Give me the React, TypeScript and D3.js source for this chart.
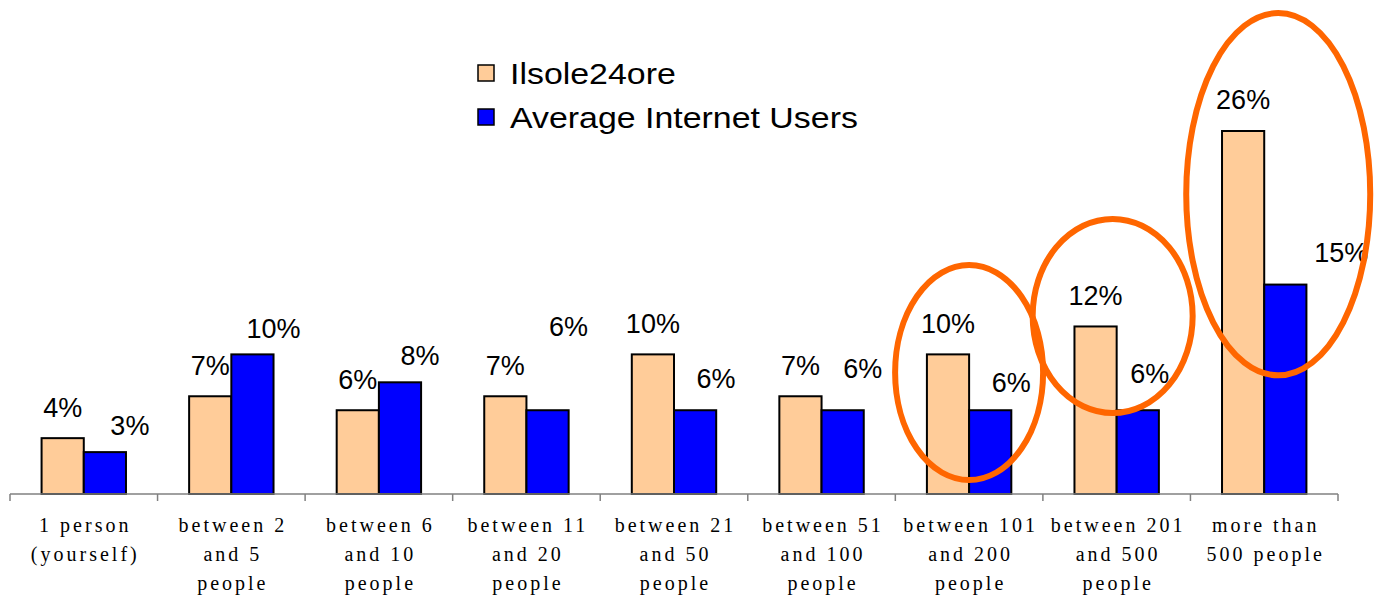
import React from "react";
import * as d3 from "d3";

// ---- data ----
const categories: string[][] = [
  ["1 person", "(yourself)"],
  ["between 2", "and 5", "people"],
  ["between 6", "and 10", "people"],
  ["between 11", "and 20", "people"],
  ["between 21", "and 50", "people"],
  ["between 51", "and 100", "people"],
  ["between 101", "and 200", "people"],
  ["between 201", "and 500", "people"],
  ["more than", "500 people"],
];
const seriesNames = ["Ilsole24ore", "Average Internet Users"];
const ilsole: number[] = [4, 7, 6, 7, 10, 7, 10, 12, 26];
const avgUsers: number[] = [3, 10, 8, 6, 6, 6, 6, 6, 15];
// highlighted categories (orange ellipses), vertical extent in % units
const highlightCats = [6, 7, 8];
const highlightFrom = [1.0, 5.8, 8.5];
const highlightTo = [16.4, 19.7, 34.45];

// ---- layout / style ----
const W = 1385;
const H = 596;
const colors = ["#FFCC99", "#0000FF"];
// manual label nudges (px) for the second series, as in the source chart
const blueDx = [25, 21, 20, 21, 21, 20, 21, 12, 56];
const blueDy = [-27, -26, -27, -84, -32, -42, -28, -37, -32];
const ellipseDx = [0, -4, 14];
const ellipseRx = [74, 80, 92];

export default function App() {
  const x = d3.scaleBand<number>().domain(d3.range(categories.length)).range([10, 1338]).padding(0);
  const y = d3.scaleLinear().domain([0, 26]).range([494, 131]);
  const bw = x.bandwidth();
  const barW = bw * 0.286;
  const sans = "'Liberation Sans', Arial, sans-serif";
  const serif = "'Liberation Serif', 'Times New Roman', serif";

  return (
    <svg width={W} height={H} style={{ position: "absolute", left: 0, top: 0, background: "#fff" }}>
      {/* bars */}
      {categories.map((_, i) => {
        const cx = (x(i) as number) + bw / 2;
        return (
          <g key={i}>
            <rect x={cx - barW} y={y(ilsole[i])} width={barW} height={y(0) - y(ilsole[i])}
              fill={colors[0]} stroke="#000" strokeWidth={2} />
            <rect x={cx} y={y(avgUsers[i])} width={barW} height={y(0) - y(avgUsers[i])}
              fill={colors[1]} stroke="#000" strokeWidth={2} />
            <text x={cx - barW / 2} y={y(ilsole[i]) - 31} dy="0.35em" textAnchor="middle"
              fontFamily={sans} fontSize={27} fill="#000">{ilsole[i]}%</text>
            <text x={cx + barW / 2 + blueDx[i]} y={y(avgUsers[i]) + blueDy[i]} dy="0.35em" textAnchor="middle"
              fontFamily={sans} fontSize={27} fill="#000">{avgUsers[i]}%</text>
          </g>
        );
      })}
      {/* axis */}
      <line x1={10} x2={1338} y1={y(0)} y2={y(0)} stroke="#808080" strokeWidth={1.5} />
      {d3.range(categories.length + 1).map((i) => {
        const tx = 10 + i * bw;
        return <line key={i} x1={tx} x2={tx} y1={y(0)} y2={y(0) + 7} stroke="#808080" strokeWidth={1.5} />;
      })}
      {categories.map((lines, i) => {
        const cx = (x(i) as number) + bw / 2;
        return (
          <text key={i} textAnchor="middle" fontFamily={serif} fontSize={20} letterSpacing={3} fill="#000">
            {lines.map((l, j) => (
              <tspan key={j} x={cx + 1.5} y={532 + j * 29}>{l}</tspan>
            ))}
          </text>
        );
      })}
      {/* ellipses */}
      {highlightCats.map((c, k) => {
        const cx = (x(c) as number) + bw / 2 + ellipseDx[k];
        const y1 = y(highlightTo[k]);
        const y2 = y(highlightFrom[k]);
        return (
          <ellipse key={k} cx={cx} cy={(y1 + y2) / 2} rx={ellipseRx[k]} ry={(y2 - y1) / 2}
            fill="none" stroke="#FF6600" strokeWidth={6} />
        );
      })}
      {/* legend */}
      {seriesNames.map((n, i) => (
        <g key={n} transform={`translate(478, ${65 + i * 44})`}>
          <rect x={0} y={0} width={16} height={16} fill={colors[i]} stroke="#000" strokeWidth={1.5} />
          <text x={32} y={19} fontFamily={sans} fontSize={30} fill="#000"
            transform="translate(32,0) scale(1.13,1) translate(-32,0)">{n}</text>
        </g>
      ))}
    </svg>
  );
}
